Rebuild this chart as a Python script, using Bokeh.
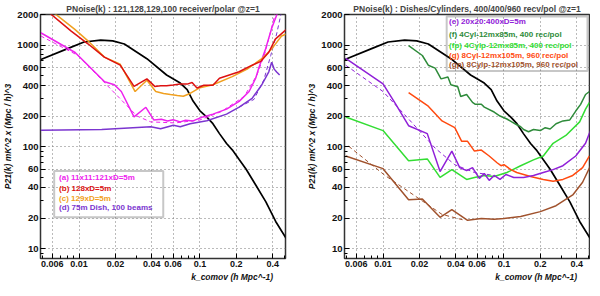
from bokeh.plotting import figure
from bokeh.models import FixedTicker, NumeralTickFormatter, BoxAnnotation, Label, Range1d, Title
from bokeh.layouts import row
from bokeh.embed import file_html
from bokeh.resources import INLINE

FONT = "Liberation Sans"

# ---------------- data ----------------
# signal P(k) (black), identical in both panels
k_pk = [0.00464, 0.00814, 0.011, 0.0151, 0.019, 0.0237, 0.0364, 0.0530, 0.0687, 0.0784, 0.0877,
        0.100, 0.114, 0.128, 0.145, 0.166, 0.185, 0.211, 0.241, 0.291, 0.351, 0.423, 0.519]
p_pk = [708, 929, 1074, 1119, 1100, 1025, 736, 509, 424, 365, 282,
        226, 196, 169, 135, 108, 93.6, 75, 60.2, 41.7, 28.8, 18.5, 12.5]

# left panel
k_a = [0.00482, 0.00928, 0.01627, 0.0196, 0.02237, 0.0285, 0.0357, 0.0415, 0.0480, 0.0539, 0.060,
       0.0687, 0.076, 0.0877, 0.1057, 0.128, 0.166, 0.211, 0.255, 0.289, 0.307, 0.349, 0.392, 0.44]
p_a = [1324, 846, 436, 408, 350, 197, 245, 184, 187, 180, 185,
       176, 183, 180, 197, 210, 235, 280, 350, 473, 600, 918, 1468, 2100]
k_a_fit = [0.00482, 0.00981, 0.03018, 0.0392, 0.0626, 0.100, 0.150, 0.2322, 0.2962, 0.3441, 0.3849, 0.4227]
p_a_fit = [1231, 791, 201, 176, 172, 184, 222, 313, 509, 827, 1374, 2138]

k_b = [0.0054, 0.00861, 0.01184, 0.0162, 0.0219, 0.0285, 0.0364, 0.0423, 0.0475, 0.0530, 0.060, 0.0687,
       0.0784, 0.0861, 0.0945, 0.1078, 0.128, 0.145, 0.211, 0.270, 0.319, 0.371, 0.4204, 0.519]
p_b = [2184, 1374, 1031, 762, 635, 393, 466, 393, 398, 399, 405, 414,
       414, 429, 379, 404, 403, 473, 547, 635, 693, 851, 1144, 1427]

k_c = [0.0056, 0.00923, 0.01184, 0.0162, 0.0219, 0.0291, 0.0364, 0.0431, 0.050, 0.0570, 0.065, 0.0728,
       0.0829, 0.100, 0.128, 0.185, 0.2457, 0.325, 0.392, 0.473, 0.519]
p_c = [2284, 1427, 1102, 762, 649, 350, 451, 350, 335, 327, 320, 315,
       335, 382, 408, 490, 581, 736, 918, 1231, 1286]

k_d = [0.00482, 0.0154, 0.0392, 0.0473, 0.0603, 0.0687, 0.0829, 0.114, 0.166, 0.211, 0.270,
       0.325, 0.371, 0.392, 0.411, 0.431, 0.456]
p_d = [145.5, 148, 158, 151, 163, 158, 169, 181, 210, 246, 300,
       408, 547, 678, 581, 544, 509]
k_d_fit = [0.211, 0.280, 0.3378, 0.3849, 0.4306, 0.473]
p_d_fit = [246, 293, 456, 791, 1286, 2138]

# right panel
k_e = [0.00491, 0.0100, 0.01276, 0.01627, 0.02322, 0.02962, 0.03708, 0.04306, 0.04911, 0.05494, 0.06262,
       0.06879, 0.07551, 0.08293, 0.09279, 0.1038, 0.1206, 0.1454, 0.1754, 0.2115, 0.2550, 0.3075,
       0.3923, 0.4730, 0.5195]
p_e = [741, 417, 262, 161.5, 135, 57.2, 90.9, 62.5, 58.5, 62.5, 49.0,
       54.7, 46.9, 52.4, 47.9, 53.5, 50.1, 50.1, 52.4, 56.0, 59.8, 65.3,
       81.4, 108.5, 144.6]
k_e_fit = [0.00491, 0.0100, 0.01627, 0.02698, 0.03922, 0.0570, 0.08293]
p_e_fit = [635, 350, 188, 97.2, 66.8, 56.0, 52.4]

k_f = [0.01627, 0.02114, 0.02366, 0.02698, 0.03018, 0.03441, 0.03639, 0.04148, 0.04387, 0.04911,
       0.05494, 0.05809, 0.06501, 0.06879, 0.08293, 0.09279, 0.1058, 0.1161, 0.1276, 0.1375, 0.1454,
       0.1597, 0.1754, 0.1999, 0.2195, 0.2411, 0.2697, 0.3075, 0.3505, 0.3923, 0.4306, 0.4730, 0.5097]
p_f = [987, 791, 635, 594, 466, 487, 408, 390, 313, 327,
       274, 262, 262, 246, 220, 201, 188, 176, 165, 158, 148,
       141, 148, 144.6, 154.5, 150, 169, 180, 184, 225, 262, 327, 350]

k_fp = [0.00491, 0.0100, 0.01627, 0.02322, 0.02962, 0.03708, 0.04911, 0.0570, 0.06879, 0.08293,
        0.1058, 0.1375, 0.1754, 0.2115, 0.2550, 0.3252, 0.4227, 0.4730, 0.5097]
p_fp = [197, 144.6, 72.9, 76.2, 50.1, 59.8, 47.9, 50.1, 52.4, 51.2,
        56.0, 65.3, 74.6, 81.4, 108.5, 129.5, 176, 235, 274]

k_g = [0.01627, 0.02366, 0.03075, 0.03922, 0.04471, 0.05003, 0.0570, 0.06501, 0.07551, 0.08770,
       0.09454, 0.1, 0.1140, 0.1276, 0.1658, 0.2115, 0.2550, 0.3075, 0.3707, 0.4472, 0.5097]
p_g = [342, 251, 180, 154.5, 113.4, 113.4, 90.9, 93.0, 81.4, 69.8,
       65.3, 66.8, 59.8, 56.0, 51.2, 47.9, 45.9, 47.9, 52.4, 62.5, 81.4]

k_gp = [0.00491, 0.0100, 0.01627, 0.02114, 0.02962, 0.03708, 0.05003, 0.06501, 0.08293, 0.1,
        0.1375, 0.1999, 0.2697, 0.3707, 0.4472, 0.5195]
p_gp = [81.4, 61.1, 30.2, 30.8, 20.3, 24.2, 19.0, 19.8, 19.4, 19.8,
        20.7, 23.1, 26.4, 33.7, 44.9, 65.3]
k_gp_fit = [0.00519, 0.01038, 0.03075, 0.0473]
p_gp_fit = [101.6, 52.4, 21.7, 19.0]

x_ticks = [0.006, 0.01, 0.02, 0.04, 0.06, 0.1, 0.2, 0.4]
x_minor = [0.005, 0.007, 0.008, 0.009, 0.03, 0.05, 0.07, 0.08, 0.09, 0.3, 0.5]
y_ticks = [10, 20, 40, 60, 100, 200, 400, 600, 1000, 2000]
y_minor = [9, 30, 50, 70, 80, 90, 300, 500, 700, 800, 900]

title_left = "PNoise(k) : 121,128,129,100 receiver/polar @z=1"
title_right = "PNoise(k) : Dishes/Cylinders, 400/400/960 recv/pol @z=1"
x_label = "k_comov  (h Mpc^-1)"
y_label = "P21(k) mK^2 x (Mpc / h)^3"
legend_left = [("(a) 11x11:121xD=5m", "#ee22ee"), ("(b) 128xD=5m", "#dd1111"),
               ("(c) 129xD=5m", "#f0a020"), ("(d) 75m Dish, 100 beams", "#7b35d0")]
legend_right = [("(e) 20x20:400xD=5m", "#9020d8"), ("(f) 4Cyl-12mx85m, 400 rec/pol", "#2e8b3a"),
                ("(fp) 4Cylp-12mx85m, 400 rec/pol", "#33dd33"), ("(g) 8Cyl-12mx105m, 960 rec/pol", "#ff4a10"),
                ("(gp) 8Cylp-12mx105m, 960 rec/pol", "#a0522d")]

X0, X1 = 0.0048, 0.51
Y0, Y1 = 8, 2000


def make_fig(title, min_left, min_right):
    p = figure(x_axis_type="log", y_axis_type="log",
               x_range=Range1d(X0, X1), y_range=Range1d(Y0, Y1),
               frame_width=245, frame_height=244,
               output_backend="svg", toolbar_location=None,
               min_border_left=min_left, min_border_right=min_right,
               min_border_top=10, min_border_bottom=24,
               background_fill_color="white", border_fill_color="white")
    p.title.text = title
    p.title.text_font = FONT
    p.title.text_font_size = "8.5px"
    p.title.text_font_style = "bold"
    p.title.align = "center"
    p.title.standoff = 2
    p.title.offset = 0
    p.outline_line_color = "#333333"
    p.outline_line_width = 1.5

    xt = FixedTicker(ticks=x_ticks, minor_ticks=x_minor)
    yt = FixedTicker(ticks=y_ticks, minor_ticks=y_minor)
    for ax, t in ((p.xaxis[0], xt), (p.yaxis[0], yt)):
        ax.ticker = t
        ax.formatter = NumeralTickFormatter(format="0.[000]")
        ax.major_label_text_font = FONT
        ax.major_label_text_font_style = "bold"
        ax.major_label_text_color = "#111111"
        ax.major_tick_in = 5
        ax.major_tick_out = 0
        ax.minor_tick_in = 3
        ax.minor_tick_out = 0
        ax.major_label_standoff = 2
        ax.axis_line_color = "#333333"
        ax.axis_label_text_font = FONT
        ax.axis_label_text_font_style = "bold italic"
        ax.axis_label_text_font_size = "8.5px"
        ax.axis_label_text_color = "#111111"
        ax.axis_label_standoff = 1
    p.xaxis[0].major_label_text_font_size = "9px"
    p.yaxis[0].major_label_text_font_size = "9.5px"
    p.yaxis[0].axis_label = y_label

    p.add_layout(Title(text=x_label, align="right", offset=10, standoff=0,
                       text_font=FONT, text_font_size="8.5px",
                       text_font_style="bold italic", text_color="#111111"), "below")

    for g in (p.xgrid[0], p.ygrid[0]):
        g.grid_line_color = "#777777"
        g.grid_line_dash = "1 3"
        g.grid_line_width = 1
    p.xgrid[0].ticker = xt
    p.ygrid[0].ticker = yt
    return p


def add_legend(p, items, left, right, top, bottom, tx, tys):
    p.add_layout(BoxAnnotation(left=left, right=right, top=top, bottom=bottom,
                               fill_alpha=0, line_color="#444444", line_width=2))
    for (txt, col), ty in zip(items, tys):
        p.add_layout(Label(x=tx, y=ty, text=txt, text_color=col, text_baseline="middle",
                           text_align="left", text_font=FONT, text_font_size="8px",
                           text_font_style="bold"))


LW = 1.5
# ---------------- left panel ----------------
p1 = make_fig(title_left, 30, 14)
p1.line(k_pk, p_pk, line_color="black", line_width=1.7)
p1.line(k_a_fit, p_a_fit, line_color="#ee22ee", line_width=1, line_dash="4 3")
p1.line(k_d_fit, p_d_fit, line_color="#7b35d0", line_width=1, line_dash="4 3")
p1.line(k_d, p_d, line_color="#7b35d0", line_width=LW)
p1.line(k_a, p_a, line_color="#ee22ee", line_width=LW)
p1.line(k_c, p_c, line_color="#f0a020", line_width=LW)
p1.line(k_b, p_b, line_color="#dd1111", line_width=LW)
add_legend(p1, legend_left, 0.00623, 0.0497, 58.1, 20.3, 0.00684, [50.1, 38.7, 31.0, 25.3])

# ---------------- right panel ----------------
p2 = make_fig(title_right, 45, 1)
p2.line(k_pk, p_pk, line_color="black", line_width=1.7)
p2.line(k_e_fit, p_e_fit, line_color="#9020d8", line_width=1, line_dash="4 3")
p2.line(k_gp_fit, p_gp_fit, line_color="#a0522d", line_width=1, line_dash="4 3")
p2.line(k_f, p_f, line_color="#2e8b3a", line_width=LW)
p2.line(k_fp, p_fp, line_color="#33dd33", line_width=LW)
p2.line(k_g, p_g, line_color="#ff4a10", line_width=LW)
p2.line(k_gp, p_gp, line_color="#a0522d", line_width=LW)
p2.line(k_e, p_e, line_color="#9020d8", line_width=LW)
add_legend(p2, legend_right, 0.0336, 0.491, 1914, 556, 0.0352, [1714, 1278, 1002, 791, 645])

layout = row(p1, p2)
open("out.html", "w").write(file_html(layout, INLINE))
